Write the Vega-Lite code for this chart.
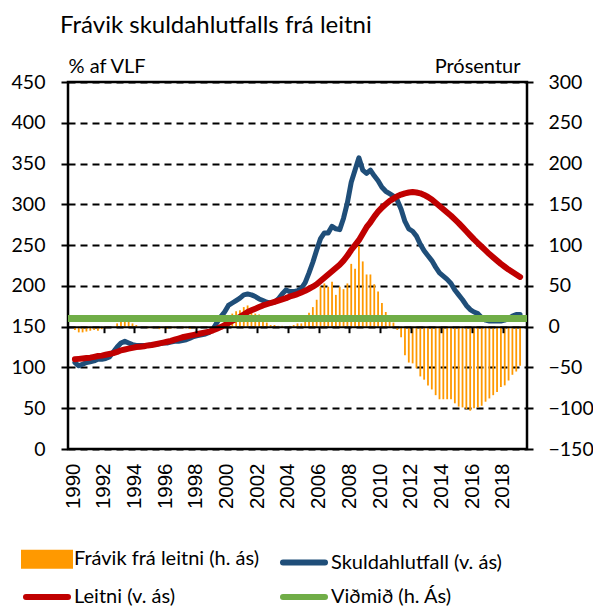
{
"$schema": "https://vega.github.io/schema/vega-lite/v6.json",
"width": 459, "height": 367,
"autosize": {"type": "none"},
"padding": {"left": 68, "top": 82, "right": 66, "bottom": 158},
"background": "white",
"title": {"text": "Frávik skuldahlutfalls frá leitni", "anchor": "start", "frame": "group", "font": "Lato", "fontSize": 24, "fontWeight": "normal", "color": "black", "dx": -8, "dy": -10, "offset": 8},
"config": {"view": {"stroke": "black", "strokeWidth": 2.5}, "font": "Lato"},
"data": {"values": [
{"ar":1990.125,"s":106,"l":110,"f":-4},{"ar":1990.375,"s":102,"l":110.5,"f":-7},{"ar":1990.625,"s":104,"l":111,"f":-7},{"ar":1990.875,"s":106,"l":111.5,"f":-6},
{"ar":1991.125,"s":107,"l":112,"f":-5},{"ar":1991.375,"s":108,"l":113,"f":-4},{"ar":1991.625,"s":110,"l":114,"f":-5},{"ar":1991.875,"s":110,"l":114.5,"f":-3},
{"ar":1992.125,"s":111,"l":115.5,"f":-2},{"ar":1992.375,"s":113,"l":116.5,"f":-1},{"ar":1992.625,"s":119,"l":117.5,"f":0},{"ar":1992.875,"s":125,"l":119,"f":4},
{"ar":1993.125,"s":130,"l":121,"f":6},{"ar":1993.375,"s":132,"l":122,"f":6},{"ar":1993.625,"s":130,"l":123,"f":6},{"ar":1993.875,"s":128,"l":124,"f":4},
{"ar":1994.125,"s":127,"l":125,"f":2},{"ar":1994.375,"s":127,"l":125.5,"f":0},{"ar":1994.625,"s":127,"l":126,"f":-1},{"ar":1994.875,"s":127,"l":127,"f":-2},
{"ar":1995.125,"s":128,"l":127.5,"f":-2},{"ar":1995.375,"s":128,"l":128.5,"f":-2},{"ar":1995.625,"s":129,"l":129.5,"f":-3},{"ar":1995.875,"s":130,"l":130.5,"f":-2},
{"ar":1996.125,"s":130,"l":131.5,"f":-3},{"ar":1996.375,"s":131,"l":132.5,"f":-2},{"ar":1996.625,"s":132,"l":134,"f":-2},{"ar":1996.875,"s":132,"l":135.5,"f":-1},
{"ar":1997.125,"s":133,"l":137,"f":-2},{"ar":1997.375,"s":134,"l":138,"f":-2},{"ar":1997.625,"s":136,"l":139,"f":-3},{"ar":1997.875,"s":138,"l":140,"f":-2},
{"ar":1998.125,"s":139,"l":141,"f":-2},{"ar":1998.375,"s":140,"l":142,"f":-1},{"ar":1998.625,"s":141,"l":143,"f":-1},{"ar":1998.875,"s":143,"l":144,"f":0},
{"ar":1999.125,"s":147,"l":145.5,"f":1},{"ar":1999.375,"s":155,"l":147.5,"f":2},{"ar":1999.625,"s":162,"l":149.5,"f":3},{"ar":1999.875,"s":168,"l":152,"f":5},
{"ar":2000.125,"s":176,"l":154.5,"f":10},{"ar":2000.375,"s":179,"l":157,"f":16},{"ar":2000.625,"s":182,"l":159.5,"f":19},{"ar":2000.875,"s":185,"l":162,"f":20},
{"ar":2001.125,"s":189,"l":165,"f":24},{"ar":2001.375,"s":190,"l":168,"f":26},{"ar":2001.625,"s":189,"l":170,"f":22},{"ar":2001.875,"s":187,"l":172,"f":16},
{"ar":2002.125,"s":184,"l":174,"f":15},{"ar":2002.375,"s":182,"l":176,"f":8},{"ar":2002.625,"s":180,"l":177.5,"f":5},{"ar":2002.875,"s":179,"l":179,"f":2},
{"ar":2003.125,"s":180,"l":180.5,"f":2},{"ar":2003.375,"s":184,"l":182,"f":1},{"ar":2003.625,"s":190,"l":183.5,"f":1},{"ar":2003.875,"s":195,"l":185,"f":0},
{"ar":2004.125,"s":193,"l":187,"f":1},{"ar":2004.375,"s":193,"l":188.5,"f":2},{"ar":2004.625,"s":194,"l":190,"f":4},{"ar":2004.875,"s":197,"l":192,"f":4},
{"ar":2005.125,"s":204,"l":194,"f":8},{"ar":2005.375,"s":216,"l":196.5,"f":17},{"ar":2005.625,"s":229,"l":199,"f":24},{"ar":2005.875,"s":244,"l":202,"f":33},
{"ar":2006.125,"s":258,"l":206,"f":49},{"ar":2006.375,"s":265,"l":210,"f":53},{"ar":2006.625,"s":265,"l":214,"f":49},{"ar":2006.875,"s":273,"l":218,"f":55},
{"ar":2007.125,"s":270,"l":222,"f":39},{"ar":2007.375,"s":269,"l":226,"f":49},{"ar":2007.625,"s":283,"l":231,"f":46},{"ar":2007.875,"s":302,"l":237,"f":53},
{"ar":2008.125,"s":327,"l":244,"f":77},{"ar":2008.375,"s":342,"l":250,"f":71},{"ar":2008.625,"s":357,"l":256,"f":99},{"ar":2008.875,"s":342,"l":264,"f":80},
{"ar":2009.125,"s":338,"l":272,"f":64},{"ar":2009.375,"s":342,"l":278,"f":64},{"ar":2009.625,"s":335,"l":285,"f":52},{"ar":2009.875,"s":329,"l":291,"f":43},
{"ar":2010.125,"s":321,"l":296,"f":29},{"ar":2010.375,"s":316,"l":300,"f":18},{"ar":2010.625,"s":313,"l":304,"f":12},{"ar":2010.875,"s":310,"l":307,"f":5},
{"ar":2011.125,"s":305,"l":310,"f":-4},{"ar":2011.375,"s":294,"l":312,"f":-13},{"ar":2011.625,"s":279,"l":313.5,"f":-35},{"ar":2011.875,"s":270,"l":314.5,"f":-44},
{"ar":2012.125,"s":267,"l":315,"f":-45},{"ar":2012.375,"s":261,"l":314.5,"f":-51},{"ar":2012.625,"s":251,"l":313.5,"f":-61},{"ar":2012.875,"s":243,"l":311.5,"f":-65},
{"ar":2013.125,"s":237,"l":309,"f":-72},{"ar":2013.375,"s":231,"l":306,"f":-77},{"ar":2013.625,"s":223,"l":302,"f":-84},{"ar":2013.875,"s":216,"l":298,"f":-89},
{"ar":2014.125,"s":212,"l":294,"f":-89},{"ar":2014.375,"s":208,"l":290,"f":-89},{"ar":2014.625,"s":203,"l":286,"f":-89},{"ar":2014.875,"s":195,"l":281.5,"f":-94},
{"ar":2015.125,"s":189,"l":277,"f":-98},{"ar":2015.375,"s":183,"l":272,"f":-99},{"ar":2015.625,"s":176,"l":267,"f":-101},{"ar":2015.875,"s":171,"l":262,"f":-103},
{"ar":2016.125,"s":168,"l":257,"f":-100},{"ar":2016.375,"s":166,"l":252.5,"f":-99},{"ar":2016.625,"s":161,"l":248,"f":-97},{"ar":2016.875,"s":158,"l":243.5,"f":-92},
{"ar":2017.125,"s":157,"l":239,"f":-88},{"ar":2017.375,"s":157,"l":235,"f":-84},{"ar":2017.625,"s":157,"l":231,"f":-80},{"ar":2017.875,"s":157,"l":227,"f":-74},
{"ar":2018.125,"s":158,"l":223.5,"f":-72},{"ar":2018.375,"s":160,"l":220,"f":-66},{"ar":2018.625,"s":163,"l":217,"f":-59},{"ar":2018.875,"s":165,"l":214,"f":-55},
{"ar":2019.125,"s":165,"l":211,"f":-48}
]},
"layer": [
{
"mark": {"type": "bar", "width": 1.8},
"encoding": {
"x": {"field": "ar", "type": "quantitative", "scale": {"domain": [1990, 2019.25], "nice": false, "zero": false},
"axis": {"orient": "bottom", "offset": -122.3, "values": [1992,1994,1996,1998,2000,2002,2004,2006,2008,2010,2012,2014,2016,2018], "labels": false, "ticks": true, "tickSize": 6, "tickColor": "black", "tickWidth": 2, "domain": true, "domainColor": "black", "domainWidth": 2, "grid": false, "title": null, "zindex": 1}},
"y": {"field": "f", "type": "quantitative", "scale": {"domain": [-150, 300], "nice": false, "zero": false},
"axis": {"orient": "right", "values": [-150,-100,-50,0,50,100,150,200,250,300], "grid": false, "domain": false, "ticks": true, "tickSize": 6, "tickColor": "black", "tickWidth": 2, "labelFont": "Lato", "labelFontSize": 19.5, "labelColor": "black", "labelPadding": 15, "title": "Prósentur", "titleFont": "Lato", "titleFontSize": 20, "titleFontWeight": "normal", "titleColor": "black", "titleAngle": 0, "titleX": -7, "titleY": -10, "titleAlign": "right", "titleBaseline": "alphabetic"}},
"y2": {"datum": 0},
"color": {"datum": "Frávik frá leitni (h. ás)", "type": "nominal",
"scale": {"domain": ["Frávik frá leitni (h. ás)", "Skuldahlutfall (v. ás)", "Leitni (v. ás)", "Viðmið (h. Ás)"], "range": ["#FF9900", "#1F4E79", "#C00000", "#70AD47"]},
"legend": {"orient": "none", "direction": "horizontal", "legendX": -34, "legendY": 464, "columns": 2, "title": null, "padding": 0, "symbolSize": 400, "labelFont": "Lato", "labelFontSize": 20, "labelColor": "black", "labelOffset": 14, "columnPadding": 11, "rowPadding": 6, "labelLimit": 400,
"values": ["Frávik frá leitni (h. ás)", "Skuldahlutfall (v. ás)", "Leitni (v. ás)", "Viðmið (h. Ás)"],
"encode": {"symbols": {"update": {
"shape": {"signal": "datum.value === 'Frávik frá leitni (h. ás)' ? 'M-2.3,-0.65H2.3V0.65H-2.3Z' : 'M-2.1,0H2.1'"},
"fill": [{"test": "datum.value === 'Frávik frá leitni (h. ás)'", "value": "#FF9900"}, {"value": "transparent"}],
"stroke": [{"test": "datum.value === 'Frávik frá leitni (h. ás)'", "value": "transparent"}, {"scale": "color", "field": "value"}],
"strokeWidth": {"value": 6}, "strokeCap": {"value": "round"}, "opacity": {"value": 1}, "fillOpacity": {"value": 1}, "strokeOpacity": {"value": 1}}}}}}
}
},
{
"mark": {"type": "line", "strokeWidth": 5, "strokeJoin": "round", "strokeCap": "round"},
"encoding": {
"x": {"field": "ar", "type": "quantitative", "scale": {"domain": [1990, 2019.25], "nice": false, "zero": false},
"axis": {"orient": "bottom", "values": [1990,1992,1994,1996,1998,2000,2002,2004,2006,2008,2010,2012,2014,2016,2018], "format": "d", "labelAngle": -90, "labelFont": "Liberation Sans", "labelFontSize": 20.5, "labelColor": "black", "labelPadding": 14, "labelFlush": false, "labelOverlap": false, "ticks": false, "domain": false, "grid": false, "title": null}},
"y": {"field": "s", "type": "quantitative", "scale": {"domain": [0, 450], "nice": false, "zero": false},
"axis": {"orient": "left", "values": [0,50,100,150,200,250,300,350,400,450], "grid": true, "gridDash": [7,5], "gridColor": "black", "gridWidth": 1.8, "domain": false, "ticks": true, "tickSize": 7, "tickColor": "black", "tickWidth": 2, "labelFont": "Lato", "labelFontSize": 19.5, "labelColor": "black", "labelPadding": 16, "title": "% af VLF", "titleFont": "Lato", "titleFontSize": 20, "titleFontWeight": "normal", "titleColor": "black", "titleAngle": 0, "titleX": 0, "titleY": -10, "titleAlign": "left", "titleBaseline": "alphabetic"}},
"color": {"datum": "Skuldahlutfall (v. ás)", "type": "nominal"}
}
},
{
"mark": {"type": "line", "strokeWidth": 6, "strokeJoin": "round", "strokeCap": "round"},
"encoding": {
"x": {"field": "ar", "type": "quantitative", "scale": {"domain": [1990, 2019.25], "nice": false, "zero": false}, "axis": null},
"y": {"field": "l", "type": "quantitative", "scale": {"domain": [0, 450], "nice": false, "zero": false}, "axis": null},
"color": {"datum": "Leitni (v. ás)", "type": "nominal"}
}
},
{
"mark": {"type": "rule", "strokeWidth": 6},
"encoding": {
"y": {"datum": 10, "type": "quantitative", "scale": {"domain": [-150, 300], "nice": false, "zero": false}, "axis": null},
"color": {"datum": "Viðmið (h. Ás)", "type": "nominal"}
}
}
],
"resolve": {"scale": {"y": "independent"}, "axis": {"x": "independent", "y": "independent"}}
}
